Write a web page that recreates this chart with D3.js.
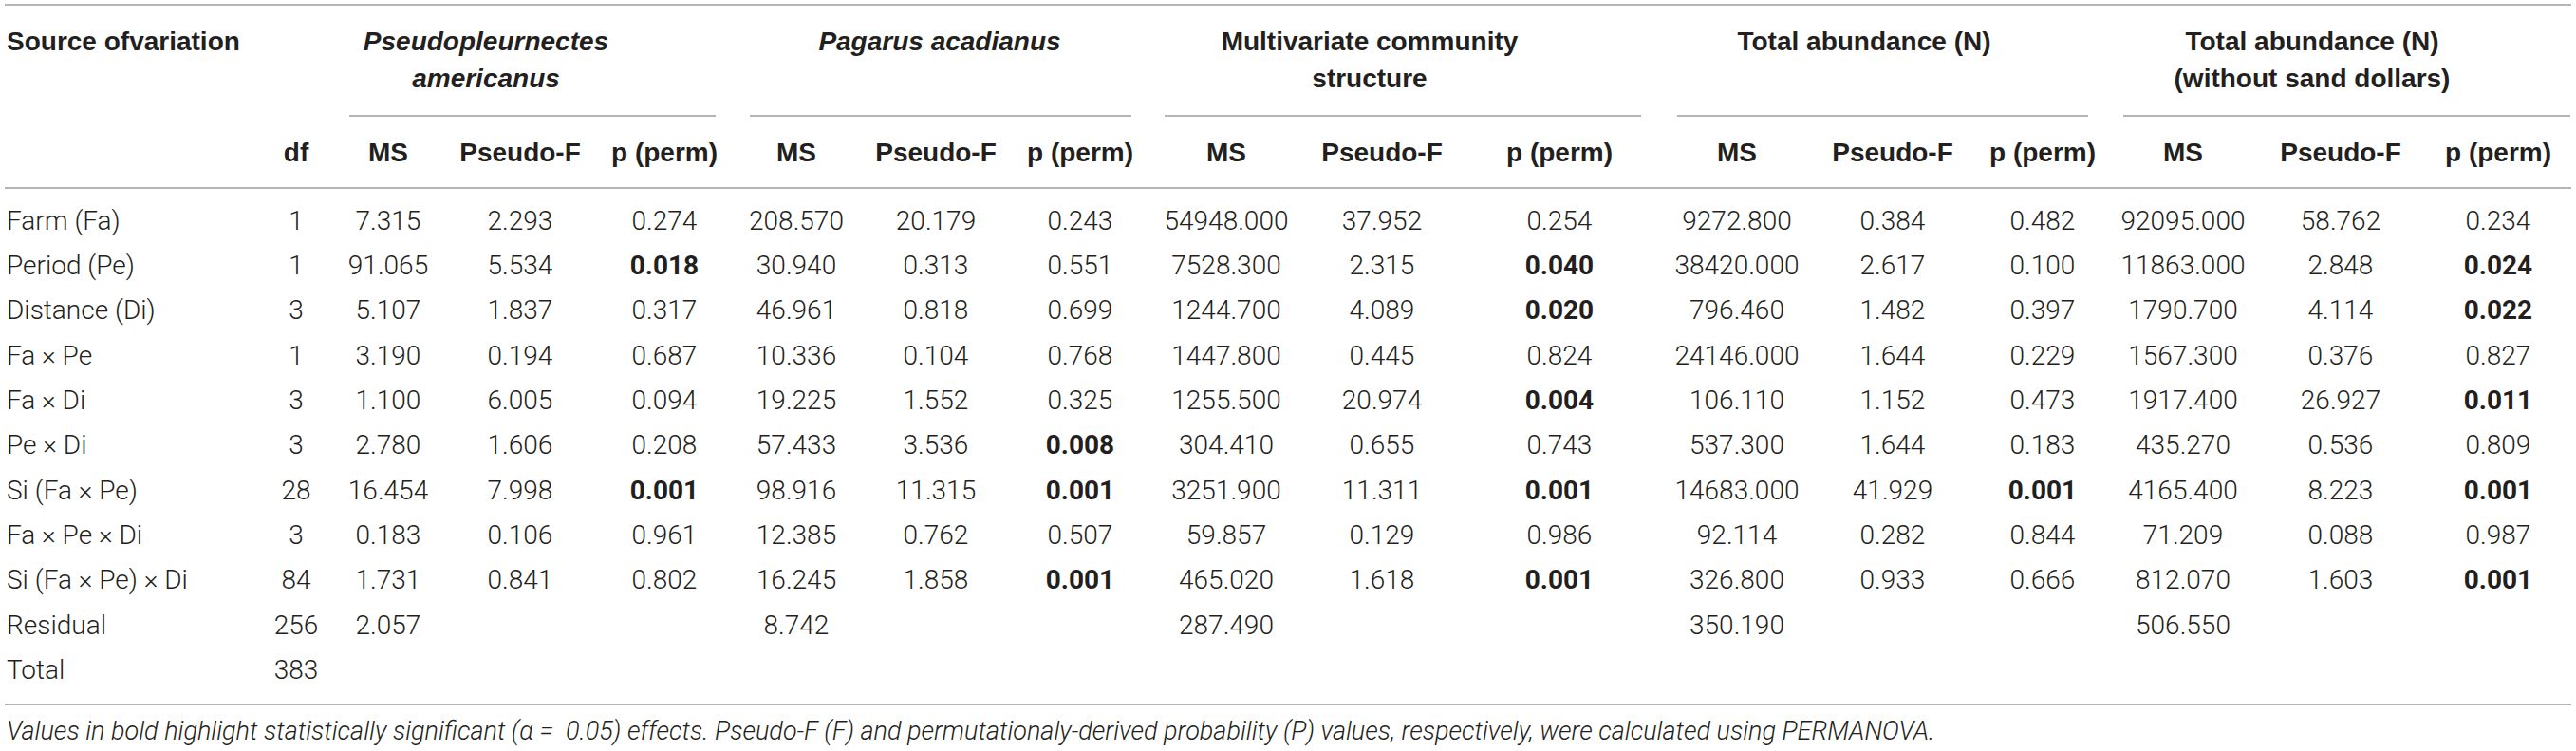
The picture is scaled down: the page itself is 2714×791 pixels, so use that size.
<!DOCTYPE html>
<html lang="en">
<head>
<meta charset="utf-8">
<title>PERMANOVA table</title>
<script src="https://cdn.jsdelivr.net/npm/d3@7"></script>
<style>
  body { margin: 0; background: #fff; }
  svg text { font-family: Roboto, "Liberation Sans", Arial, sans-serif; fill: #231f20; }
  .cell { font-weight: 300; font-size: 28px; }
  .head { font-weight: 700; font-size: 28px; font-family: "Liberation Sans", Arial, sans-serif; }
  .sig { font-weight: 700; }
  .rule { stroke: #9d9d9d; stroke-width: 1.6; }
  .note { font-weight: 300; font-style: italic; font-size: 27px; white-space: pre; }
</style>
</head>
<body>
<script>
// ---- data ----
var sources = ["Farm (Fa)", "Period (Pe)", "Distance (Di)", "Fa \u00d7 Pe", "Fa \u00d7 Di", "Pe \u00d7 Di",
  "Si (Fa \u00d7 Pe)", "Fa \u00d7 Pe \u00d7 Di", "Si (Fa \u00d7 Pe) \u00d7 Di", "Residual", "Total"];
var df = [1, 1, 3, 1, 3, 3, 28, 3, 84, 256, 383];

var groupNames = [["Pseudopleurnectes", "americanus"], ["Pagarus acadianus"],
  ["Multivariate community", "structure"], ["Total abundance (N)"],
  ["Total abundance (N)", "(without sand dollars)"]];
var groupItalic = [true, true, false, false, false];
var subHeads = ["MS", "Pseudo-F", "p (perm)"];

// Pseudopleurnectes americanus
var flounderMS = [7.315, 91.065, 5.107, 3.190, 1.100, 2.780, 16.454, 0.183, 1.731, 2.057];
var flounderF  = [2.293, 5.534, 1.837, 0.194, 6.005, 1.606, 7.998, 0.106, 0.841];
var flounderP  = [0.274, 0.018, 0.317, 0.687, 0.094, 0.208, 0.001, 0.961, 0.802];
// Pagarus acadianus
var crabMS = [208.570, 30.940, 46.961, 10.336, 19.225, 57.433, 98.916, 12.385, 16.245, 8.742];
var crabF  = [20.179, 0.313, 0.818, 0.104, 1.552, 3.536, 11.315, 0.762, 1.858];
var crabP  = [0.243, 0.551, 0.699, 0.768, 0.325, 0.008, 0.001, 0.507, 0.001];
// Multivariate community structure
var commMS = [54948.000, 7528.300, 1244.700, 1447.800, 1255.500, 304.410, 3251.900, 59.857, 465.020, 287.490];
var commF  = [37.952, 2.315, 4.089, 0.445, 20.974, 0.655, 11.311, 0.129, 1.618];
var commP  = [0.254, 0.040, 0.020, 0.824, 0.004, 0.743, 0.001, 0.986, 0.001];
// Total abundance (N)
var abunMS = [9272.800, 38420.000, 796.460, 24146.000, 106.110, 537.300, 14683.000, 92.114, 326.800, 350.190];
var abunF  = [0.384, 2.617, 1.482, 1.644, 1.152, 1.644, 41.929, 0.282, 0.933];
var abunP  = [0.482, 0.100, 0.397, 0.229, 0.473, 0.183, 0.001, 0.844, 0.666];
// Total abundance (N) without sand dollars
var nosdMS = [92095.000, 11863.000, 1790.700, 1567.300, 1917.400, 435.270, 4165.400, 71.209, 812.070, 506.550];
var nosdF  = [58.762, 2.848, 4.114, 0.376, 26.927, 0.536, 8.223, 0.088, 1.603];
var nosdP  = [0.234, 0.024, 0.022, 0.827, 0.011, 0.809, 0.001, 0.987, 0.001];

var footnote = "Values in bold highlight statistically significant (\u03b1 =  0.05) effects. Pseudo-F (F) and permutationaly-derived probability (P) values, respectively, were calculated using PERMANOVA.";

var groups = [[flounderMS, flounderF, flounderP], [crabMS, crabF, crabP], [commMS, commF, commP],
  [abunMS, abunF, abunP], [nosdMS, nosdF, nosdP]];
var alpha = 0.05;

// ---- layout ----
var width = 2714, height = 791;
var colX = [[409, 548, 700], [839, 986, 1138], [1292, 1456, 1643], [1830, 1994, 2152], [2300, 2466, 2632]];
var groupCenter = [512, 990, 1443, 1964, 2436];
var groupRule = [[368, 754], [790, 1192], [1227, 1729], [1767, 2200], [2237, 2708]];

var svg = d3.select("body").append("svg")
  .attr("width", width).attr("height", height);

var y = d3.scalePoint().domain(sources).range([232, 705]);
var colKeys = [];
groups.forEach(function(g, gi) { subHeads.forEach(function(s, si) { colKeys.push(gi + "_" + si); }); });
var x = d3.scaleOrdinal().domain(["df"].concat(colKeys))
  .range([312].concat(d3.merge(colX)));

var fmt = d3.format(".3f");

// rules
var rules = [[5, 5, 2709], [198, 5, 2709], [742, 5, 2709]];
groupRule.forEach(function(r) { rules.push([122, r[0], r[1]]); });
svg.selectAll("line.rule").data(rules).enter().append("line")
  .attr("class", "rule")
  .attr("x1", function(d) { return d[1]; })
  .attr("x2", function(d) { return d[2]; })
  .attr("y1", function(d) { return d[0]; })
  .attr("y2", function(d) { return d[0]; });

// header
svg.append("text").attr("class", "head").attr("x", 7).attr("y", 43).attr("dy", "0.35em")
  .text("Source ofvariation");
svg.append("text").attr("class", "head").attr("x", x("df")).attr("y", 160).attr("dy", "0.35em")
  .attr("text-anchor", "middle").text("df");

groupNames.forEach(function(lines, gi) {
  lines.forEach(function(t, li) {
    svg.append("text").attr("class", "head")
      .attr("x", groupCenter[gi]).attr("y", 43 + li * 39).attr("dy", "0.35em")
      .attr("text-anchor", "middle")
      .style("font-style", groupItalic[gi] ? "italic" : "normal")
      .text(t);
  });
  subHeads.forEach(function(s, si) {
    svg.append("text").attr("class", "head")
      .attr("x", x(gi + "_" + si)).attr("y", 160).attr("dy", "0.35em")
      .attr("text-anchor", "middle").text(s);
  });
});

// body rows
svg.selectAll("text.src").data(sources).enter().append("text")
  .attr("class", "cell src")
  .attr("x", 7).attr("y", function(d) { return y(d); }).attr("dy", "0.35em")
  .text(function(d) { return d; });

svg.selectAll("text.df").data(df).enter().append("text")
  .attr("class", "cell df")
  .attr("x", x("df")).attr("y", function(d, i) { return y(sources[i]); }).attr("dy", "0.35em")
  .attr("text-anchor", "middle")
  .text(function(d) { return d; });

groups.forEach(function(g, gi) {
  g.forEach(function(vals, si) {
    svg.selectAll("text.c" + gi + "_" + si).data(vals).enter().append("text")
      .attr("class", function(d) { return "cell c" + gi + "_" + si + (si === 2 && d < alpha ? " sig" : ""); })
      .attr("x", x(gi + "_" + si))
      .attr("y", function(d, i) { return y(sources[i]); })
      .attr("dy", "0.35em")
      .attr("text-anchor", "middle")
      .text(function(d) { return fmt(d); });
  });
});

// footnote
svg.append("text").attr("class", "note").attr("x", 7).attr("y", 770).attr("dy", "0.35em")
  .text(footnote);
</script>
</body>
</html>
